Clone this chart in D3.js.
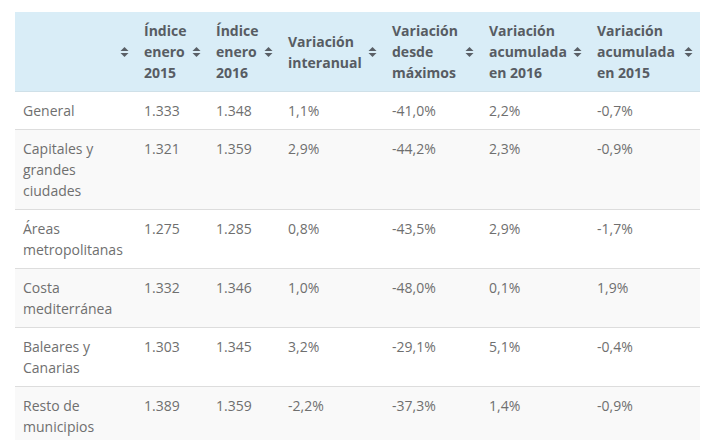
<html>
<head>
  <meta charset="utf-8">
  <script src="https://d3js.org/d3.v7.min.js"></script>
  <style>
    body { margin: 0; background: #fff; font-family: "Open Sans", sans-serif; }
    table { position: absolute; left: 15px; top: 12px; border-collapse: collapse; table-layout: fixed; width: 685px; font-size: 14px; line-height: 21px; }
    th { background: #d9edf7; color: #575c63; font-weight: 700; text-align: left; vertical-align: middle;
         padding: 8px 24px 8px 8px; position: relative; border-bottom: 1px solid #cfe0e8; }
    td { color: #6f6f6f; vertical-align: top; padding: 8px 8px 8px 8px; border-top: 1px solid #dddddd; }
    tbody tr:nth-child(even) td { background: #f9f9f9; }
    th svg { position: absolute; right: 7px; top: 50%; margin-top: -6px; }
  </style>
</head>
<body>
<div id="tabla"></div>
<script>
// column headings and widths of the table
var headers = ["", "Índice enero 2015", "Índice enero 2016", "Variación interanual",
               "Variación desde máximos", "Variación acumulada en 2016", "Variación acumulada en 2015"];
var colWidths = [121, 72, 72, 104, 97, 108, 111];

// data
var zonas = ["General", "Capitales y grandes ciudades", "Áreas metropolitanas",
             "Costa mediterránea", "Baleares y Canarias", "Resto de municipios"];
var indice2015 = ["1.333", "1.321", "1.275", "1.332", "1.303", "1.389"];
var indice2016 = ["1.348", "1.359", "1.285", "1.346", "1.345", "1.359"];
var interanual = ["1,1%", "2,9%", "0,8%", "1,0%", "3,2%", "-2,2%"];
var desdeMax = ["-41,0%", "-44,2%", "-43,5%", "-48,0%", "-29,1%", "-37,3%"];
var acum2016 = ["2,2%", "2,3%", "2,9%", "0,1%", "5,1%", "1,4%"];
var acum2015 = ["-0,7%", "-0,9%", "-1,7%", "1,9%", "-0,4%", "-0,9%"];

var rows = zonas.map(function(z, i) {
  return [z, indice2015[i], indice2016[i], interanual[i], desdeMax[i], acum2016[i], acum2015[i]];
});

var table = d3.select("#tabla").append("table");

table.append("colgroup").selectAll("col")
  .data(colWidths).enter().append("col")
  .style("width", function(d) { return d + "px"; });

var th = table.append("thead").append("tr")
  .selectAll("th").data(headers).enter().append("th")
  .text(function(d) { return d; });

// sort icon (up and down arrows)
var icon = th.append("svg").attr("width", 9).attr("height", 12);
icon.append("path").attr("d", "M0.5,5 L4.5,1 L8.5,5 Z").attr("fill", "#5a5f66");
icon.append("path").attr("d", "M0.5,7 L4.5,11 L8.5,7 Z").attr("fill", "#5a5f66");

table.append("tbody").selectAll("tr")
  .data(rows).enter().append("tr")
  .selectAll("td").data(function(d) { return d; }).enter().append("td")
  .text(function(d) { return d; });
</script>
</body>
</html>
